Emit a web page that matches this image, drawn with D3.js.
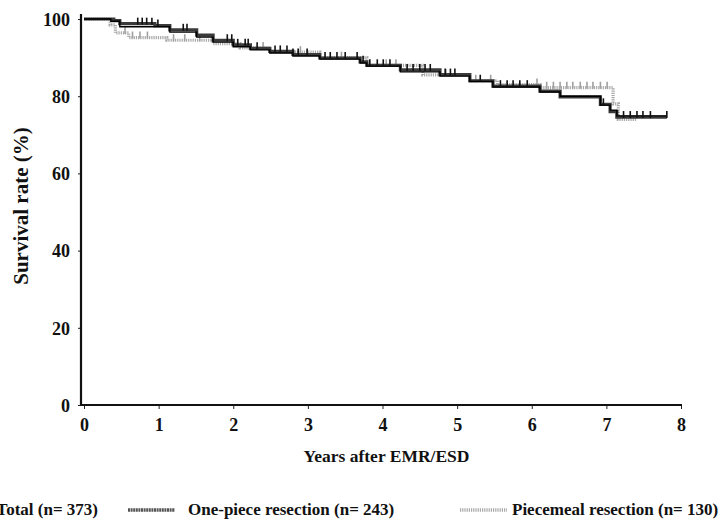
<!DOCTYPE html>
<html>
<head>
<meta charset="utf-8">
<script src="https://cdn.jsdelivr.net/npm/d3@7/dist/d3.min.js"></script>
<style>
  html, body { margin: 0; padding: 0; background: #fff; }
  svg { display: block; }
  text { font-family: "Liberation Serif", "DejaVu Serif", serif; font-weight: bold; fill: #111; }
</style>
</head>
<body>
<svg id="chart" width="721" height="525"></svg>
<script>
// ---- data ----
const xTicks = [0, 1, 2, 3, 4, 5, 6, 7, 8];
const yTicks = [0, 20, 40, 60, 80, 100];
const xTitle = "Years after EMR/ESD";
const yTitle = "Survival rate (%)";

// step curves: [year, survival %]
const totalSteps = [[0,100],[0.36,99.4],[0.48,98.0],[1.15,96.6],[1.51,95.3],[1.73,94.0],[2.0,92.8],[2.23,92.0],[2.49,91.2],[2.8,90.4],[3.16,89.6],[3.7,88.6],[3.79,87.8],[4.24,86.3],[4.77,85.2],[5.17,83.8],[5.48,82.4],[6.11,81.1],[6.38,80.0],[6.92,77.7],[7.05,76.4],[7.14,74.9],[7.81,74.9]];
const onePieceSteps = [[0,100],[0.4,99.6],[0.48,98.8],[0.95,98.3],[1.15,97.2],[1.51,95.8],[1.73,94.5],[2.0,93.3],[2.23,92.4],[2.49,91.6],[2.8,90.8],[3.16,89.9],[3.7,88.9],[3.79,88.0],[4.24,86.8],[4.77,85.6],[5.17,84.0],[5.48,82.6],[6.11,81.3],[6.38,79.8],[6.92,77.9],[7.05,76.0],[7.14,74.6],[7.81,74.6]];
const piecemealSteps = [[0,100],[0.35,98.5],[0.42,96.4],[0.6,95.2],[1.11,94.5],[1.73,93.6],[2.09,92.5],[2.49,91.4],[3.16,90.0],[3.79,88.0],[4.54,85.5],[5.17,84.0],[5.54,83.0],[6.11,82.2],[7.09,78.0],[7.16,74.0],[7.41,74.0]];

// censored observations (years)
const onePieceCensor = [0.72,0.78,0.84,0.91,0.99,1.33,1.38,1.92,1.98,2.06,2.16,2.2,2.32,2.56,2.63,2.72,2.8,2.87,2.99,3.23,3.3,3.39,3.5,3.66,3.74,3.83,3.93,4.01,4.1,4.33,4.41,4.5,4.57,4.64,4.84,4.91,4.97,5.31,5.58,5.67,5.75,5.84,5.94,6.96,7.23,7.32,7.41,7.49,7.59,7.81];
const piecemealCensor = [0.55,0.65,0.75,0.85,1.2,1.35,1.55,2.4,2.9,3.45,4.05,4.18,4.85,5.25,5.45,6.07,6.2,6.29,6.38,6.47,6.55,6.65,6.74,6.82,6.92,7.01];

const legendItems = [
  {label: "Total (n= 373)", key: "total"},
  {label: "One-piece resection (n= 243)", key: "one"},
  {label: "Piecemeal resection (n= 130)", key: "piece"}
];

// ---- layout ----
const svg = d3.select("#chart");
const x = d3.scaleLinear().domain([0, 8]).range([84, 681]);
const y = d3.scaleLinear().domain([0, 100]).range([405, 19]);

const styles = {
  total: {stroke: "#000", width: 1.4, dash: null},
  one:   {stroke: "#3a3a3a", width: 3.2, dash: null},
  piece: {stroke: "#a8a8a8", width: 3.2, dash: "1.2,1"}
};

// axes
const yAxis = d3.axisLeft(y).tickValues(yTicks).tickSize(3).tickFormat(d3.format("d"));
const gy = svg.append("g").attr("transform", "translate(81,0)").call(yAxis);
gy.select(".domain").remove();
gy.selectAll(".tick line").attr("stroke", "#222").attr("stroke-width", 1);
gy.selectAll(".tick text").attr("x", -11).attr("dy", "0.35em")
  .style("font-size", "18px").style("font-family", "Liberation Serif").style("font-weight", "bold").attr("fill", "#111");

const xAxis = d3.axisBottom(x).tickValues(xTicks).tickSize(4).tickFormat(d3.format("d"));
const gx = svg.append("g").attr("transform", "translate(0,405)").call(xAxis);
gx.select(".domain").remove();
gx.selectAll(".tick line").attr("stroke", "#222").attr("stroke-width", 1);
gx.selectAll(".tick text").attr("y", 20).attr("dy", "0.35em")
  .style("font-size", "18px").style("font-family", "Liberation Serif").style("font-weight", "bold").attr("fill", "#111");

// axis lines
svg.append("line").attr("x1", 81).attr("x2", 81).attr("y1", y(100) - 5).attr("y2", 406)
  .attr("stroke", "#111").attr("stroke-width", 2.2);
svg.append("line").attr("x1", 80).attr("x2", x(8) + 1).attr("y1", 405).attr("y2", 405)
  .attr("stroke", "#111").attr("stroke-width", 2.2);

// titles
svg.append("text").attr("x", x(4) + 4).attr("y", 462).attr("text-anchor", "middle")
  .style("font-size", "17.5px").text(xTitle);
svg.append("text").attr("transform", "translate(28,206) rotate(-90)").attr("text-anchor", "middle")
  .style("font-size", "21px").text(yTitle);

// curves
const line = d3.line().x(d => x(d[0])).y(d => y(d[1])).curve(d3.curveStepAfter);
function valueAt(steps, t) {
  let v = steps[0][1];
  for (const s of steps) { if (s[0] <= t) v = s[1]; }
  return v;
}
function drawCurve(steps, st) {
  svg.append("path").datum(steps).attr("d", line).attr("fill", "none")
    .attr("stroke", st.stroke).attr("stroke-width", st.width)
    .attr("stroke-dasharray", st.dash);
}
function drawCensor(steps, times, st, len) {
  svg.append("g").selectAll("line").data(times).join("line")
    .attr("x1", d => x(d)).attr("x2", d => x(d))
    .attr("y1", d => y(valueAt(steps, d)) - len).attr("y2", d => y(valueAt(steps, d)) + 1)
    .attr("stroke", st.stroke).attr("stroke-width", 1.6);
}
drawCurve(piecemealSteps, styles.piece);
drawCensor(piecemealSteps, piecemealCensor, {stroke: "#a0a0a0"}, 6);
drawCurve(onePieceSteps, styles.one);
drawCurve(totalSteps, styles.total);
drawCensor(onePieceSteps, onePieceCensor, {stroke: "#111"}, 6);

// legend
const ly = 510;
svg.append("line").attr("x1", -60).attr("x2", -15).attr("y1", ly - 5).attr("y2", ly - 5)
  .attr("stroke", styles.total.stroke).attr("stroke-width", 2);
svg.append("text").attr("x", 98).attr("y", ly).attr("dy", "0.32em").attr("text-anchor", "end")
  .style("font-size", "17px").text(legendItems[0].label);

svg.append("line").attr("x1", 128).attr("x2", 175).attr("y1", ly).attr("y2", ly)
  .attr("stroke", "#555").attr("stroke-width", 3.5).attr("stroke-dasharray", "2,0.6");
svg.append("text").attr("x", 188).attr("y", ly).attr("dy", "0.32em")
  .style("font-size", "17px").text(legendItems[1].label);

svg.append("line").attr("x1", 460).attr("x2", 507).attr("y1", ly).attr("y2", ly)
  .attr("stroke", styles.piece.stroke).attr("stroke-width", 3.5).attr("stroke-dasharray", styles.piece.dash);
svg.append("text").attr("x", 512).attr("y", ly).attr("dy", "0.32em")
  .style("font-size", "17px").text(legendItems[2].label);
</script>
</body>
</html>
